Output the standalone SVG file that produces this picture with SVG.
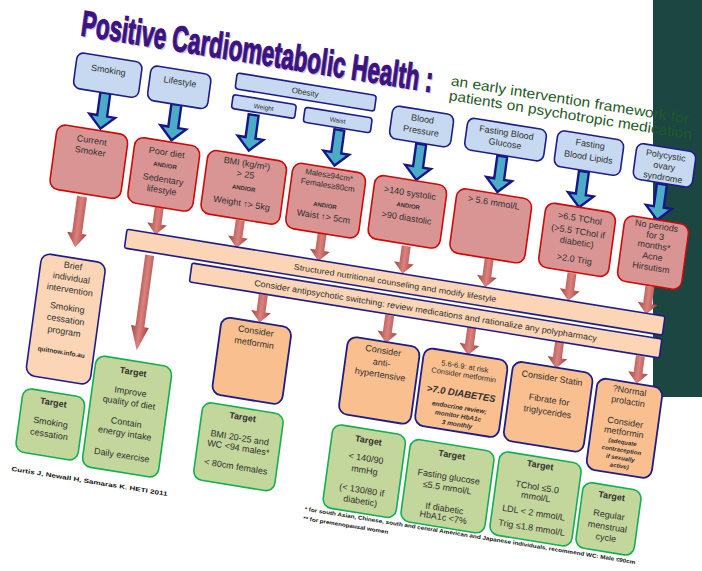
<svg xmlns="http://www.w3.org/2000/svg" width="702" height="571" viewBox="0 0 702 571">
<defs>
<style>
.t{font-family:"Liberation Sans",Arial,sans-serif;font-size:9px;fill:#303030;text-anchor:middle}
.s{font-size:6px;font-weight:bold}
.b{font-weight:bold}
.bi{font-weight:bold;font-style:italic}
.ti{font-family:"Liberation Sans",Arial,sans-serif;font-size:36px;font-weight:bold;text-anchor:start}
.sub{font-family:"Liberation Sans",Arial,sans-serif;font-size:14px;text-anchor:start;fill:#1f5a25}
.bl{fill:#c6d9f1;stroke:#1d1d8a;stroke-width:1.6}
.rd{fill:#d99594;stroke:#cc0a0a;stroke-width:1.6}
.pc{fill:#fbd5b5;stroke:#1d1d8a;stroke-width:1.6}
.or{fill:#f9bf8f;stroke:#1d1d8a;stroke-width:1.8}
.gr{fill:#c3d69b;stroke:#13b050;stroke-width:1.6}
.ab{fill:#4bacc6;stroke:#16168a;stroke-width:2.4;stroke-linejoin:miter}
.ar{fill:url(#rg)}
</style>
<linearGradient id="rg" x1="0" y1="0" x2="1" y2="0">
<stop offset="0" stop-color="#a8403d"/><stop offset="0.5" stop-color="#d9827e"/><stop offset="1" stop-color="#a8403d"/>
</linearGradient>
<path id="ba" d="M-5,0H5V23H13L0,36L-13,23H-5Z"/>
<path id="ra" d="M-4.5,0H4.5V17H10L0,28L-10,17H-4.5Z"/>
</defs>
<rect width="702" height="571" fill="#fff"/>
<rect x="653" y="0" width="49" height="397" fill="#1b4641"/>
<g transform="matrix(0.9871,0.1599,-0.1357,0.9908,0,0)">
<g id="title">
<text x="85.5" y="23.5" class="ti" style="fill:#8a84b0;opacity:.5" textLength="356" lengthAdjust="spacingAndGlyphs">Positive Cardiometabolic Health :</text>
<text x="84" y="22" class="ti" style="fill:#3d1282;stroke:#3d1282;stroke-width:1.2" textLength="356" lengthAdjust="spacingAndGlyphs">Positive Cardiometabolic Health :</text>
<text x="458" y="12" class="sub" textLength="241" lengthAdjust="spacingAndGlyphs">an early intervention framework for</text>
<text x="458" y="27" class="sub" textLength="246" lengthAdjust="spacingAndGlyphs">patients on psychotropic medication</text>
</g>
<g id="connectors">
<use href="#ba" class="ab" x="117" y="75"/>
<use href="#ba" class="ab" x="189" y="75"/>
<use href="#ba" class="ab" x="267" y="73"/>
<use href="#ba" class="ab" x="354" y="74"/>
<use href="#ba" class="ab" x="437" y="75"/>
<use href="#ba" class="ab" x="519" y="74"/>
<use href="#ba" class="ab" x="602" y="76"/>
<use href="#ba" class="ab" x="681" y="76"/>
<path class="ar" d="M103,181H113V218H118L108,232L98,218H103Z"/>
<path class="ar" d="M178.5,228H187.5V300H192L183,324L174,300H178.5Z"/>
<use href="#ra" class="ar" x="186" y="179"/>
<use href="#ra" class="ar" x="268" y="179"/>
<use href="#ra" class="ar" x="351" y="179"/>
<use href="#ra" class="ar" x="436" y="178"/>
<use href="#ra" class="ar" x="520" y="178"/>
<use href="#ra" class="ar" x="604" y="178"/>
<use href="#ra" class="ar" x="683" y="179"/>
<use href="#ra" class="ar" x="301" y="249"/>
<use href="#ra" class="ar" x="429" y="249"/>
<use href="#ra" class="ar" x="512" y="248"/>
<use href="#ra" class="ar" x="601" y="247"/>
<use href="#ra" class="ar" x="683" y="249"/>
</g>
<g id="smoking"><rect class="bl" x="84" y="39" width="66" height="36" rx="7"/><text class="t" x="117" y="55">Smoking</text></g>
<g id="lifestyle"><rect class="bl" x="159" y="40" width="61" height="35" rx="7"/><text class="t" x="189.5" y="55">Lifestyle</text></g>
<g id="obesity"><rect class="bl" x="245" y="34" width="141" height="16" rx="3"/><text class="t" x="315" y="45" style="font-size:8px">Obesity</text></g>
<g id="weight"><rect class="bl" x="244" y="56" width="64" height="14" rx="3"/><text class="t" x="276" y="66" style="font-size:6.5px">Weight</text></g>
<g id="waist"><rect class="bl" x="317" y="57" width="68" height="15" rx="3"/><text class="t" x="351" y="67" style="font-size:6.5px">Waist</text></g>
<g id="bp"><rect class="bl" x="404" y="41" width="62" height="33" rx="7"/><text class="t" x="435" y="53">Blood</text><text class="t" x="435" y="65">Pressure</text></g>
<g id="fbg"><rect class="bl" x="480" y="41" width="80" height="32" rx="7"/><text class="t" x="520" y="53">Fasting Blood</text><text class="t" x="520" y="64">Glucose</text></g>
<g id="fbl"><rect class="bl" x="571" y="39" width="67" height="36" rx="7"/><text class="t" x="604.5" y="51">Fasting</text><text class="t" x="604.5" y="64">Blood Lipids</text></g>
<g id="pcos"><rect class="bl" x="651" y="39" width="60" height="36" rx="7"/><text class="t" x="681" y="50">Polycystic</text><text class="t" x="681" y="61">ovary</text><text class="t" x="681" y="72">syndrome</text></g>
<g id="current-smoker"><rect class="rd" x="74" y="113" width="72" height="65" rx="9"/><text class="t" x="110" y="127">Current</text><text class="t" x="110" y="138">Smoker</text></g>
<g id="poor-diet"><rect class="rd" x="153" y="113" width="66" height="66" rx="9"/><text class="t" x="186" y="127">Poor diet</text><text class="t s" x="186" y="139">AND/OR</text><text class="t" x="186" y="154">Sedentary</text><text class="t" x="186" y="165">lifestyle</text></g>
<g id="bmi"><rect class="rd" x="227" y="114" width="80" height="64" rx="9"/><text class="t" x="267" y="125">BMI (kg/m²)</text><text class="t" x="267" y="136">&gt; 25</text><text class="t s" x="267" y="149">AND/OR</text><text class="t" x="267" y="165">Weight ↑&gt; 5kg</text></g>
<g id="waist-crit"><rect class="rd" x="313" y="113" width="74" height="66" rx="9"/><text class="t" x="350" y="123" style="font-size:8px">Males≥94cm*</text><text class="t" x="350" y="133" style="font-size:8px">Females≥80cm</text><text class="t s" x="350" y="153">AND/OR</text><text class="t" x="350" y="165">Waist ↑&gt; 5cm</text></g>
<g id="bp-crit"><rect class="rd" x="396" y="112" width="73" height="64" rx="9"/><text class="t" x="432.5" y="128">&gt;140 systolic</text><text class="t s" x="432.5" y="140">AND/OR</text><text class="t" x="432.5" y="153">&gt;90 diastolic</text></g>
<g id="glu-crit"><rect class="rd" x="479" y="112" width="76" height="65" rx="9"/><text class="t" x="517" y="124">&gt; 5.6 mmol/L</text></g>
<g id="lip-crit"><rect class="rd" x="569" y="112" width="71" height="65" rx="9"/><text class="t" x="604.5" y="126">&gt;6.5 TChol</text><text class="t" x="604.5" y="139">(&gt;5.5 TChol if</text><text class="t" x="604.5" y="150">diabetic)</text><text class="t" x="604.5" y="167">&gt;2.0 Trig</text></g>
<g id="pcos-crit"><rect class="rd" x="649" y="112" width="65" height="66" rx="9"/><text class="t" x="681.5" y="121">No periods</text><text class="t" x="681.5" y="131">for 3</text><text class="t" x="681.5" y="141">months*</text><text class="t" x="681.5" y="152">Acne</text><text class="t" x="681.5" y="163">Hirsutism</text></g>
<g id="bar-nutrition"><rect class="pc" x="157" y="206" width="545" height="19" rx="2"/><text class="t" x="430" y="219" style="font-size:8px" textLength="205" lengthAdjust="spacingAndGlyphs">Structured nutritional counseling and modify lifestyle</text></g>
<g id="bar-switch"><rect class="pc" x="226" y="229" width="476" height="19" rx="2"/><text class="t" x="464" y="241.5" style="font-size:8.5px" textLength="347" lengthAdjust="spacingAndGlyphs">Consider antipsychotic switching: review medications and rationalize any polypharmacy</text></g>
<g id="brief"><rect class="pc" x="76" y="243" width="65" height="123" rx="9"/><text class="t" x="108.5" y="254">Brief</text><text class="t" x="108.5" y="266">individual</text><text class="t" x="108.5" y="278">intervention</text><text class="t" x="108.5" y="296">Smoking</text><text class="t" x="108.5" y="308">cessation</text><text class="t" x="108.5" y="320">program</text><text class="t b" x="108.5" y="340" style="font-size:6.5px">quitnow.info.au</text></g>
<g id="metformin"><rect class="or" x="263" y="277" width="71" height="78" rx="9"/><text class="t" x="298.5" y="289">Consider</text><text class="t" x="298.5" y="301">metformin</text></g>
<g id="antihyp"><rect class="or" x="391" y="276" width="73" height="78" rx="9"/><text class="t" x="427.5" y="288">Consider</text><text class="t" x="427.5" y="300">anti-</text><text class="t" x="427.5" y="312">hypertensive</text></g>
<g id="diabetes"><rect class="or" x="468" y="275" width="85" height="78" rx="9"/><text class="t" x="510.5" y="290" style="font-size:7.5px">5.6-6.9: at risk</text><text class="t" x="510.5" y="298.5" style="font-size:7.5px">Consider metformin</text><text class="t bi" x="510.5" y="318" style="font-size:9.5px">&gt;7.0 DIABETES</text><text class="t bi" x="510.5" y="331" style="font-size:6.5px">endocrine review;</text><text class="t bi" x="510.5" y="339.5" style="font-size:6.5px">monitor HbA1c</text><text class="t bi" x="510.5" y="348" style="font-size:6.5px">3 monthly</text></g>
<g id="statin"><rect class="or" x="558" y="274" width="81" height="80" rx="9"/><text class="t" x="598.5" y="288">Consider Statin</text><text class="t" x="598.5" y="310">Fibrate for</text><text class="t" x="598.5" y="322">triglycerides</text></g>
<g id="prolactin"><rect class="or" x="644" y="277" width="66" height="92" rx="9"/><text class="t" x="677" y="288">?Normal</text><text class="t" x="677" y="299">prolactin</text><text class="t" x="677" y="320">Consider</text><text class="t" x="677" y="330">metformin</text><text class="t bi" x="677" y="339" style="font-size:6px">(adequate</text><text class="t bi" x="677" y="347" style="font-size:6px">contraception</text><text class="t bi" x="677" y="355" style="font-size:6px">if sexually</text><text class="t bi" x="677" y="363" style="font-size:6px">active)</text></g>
<g id="target-smoking"><rect class="gr" x="76" y="379" width="63" height="64" rx="9"/><text class="t b" x="107.5" y="392">Target</text><text class="t" x="107.5" y="412">Smoking</text><text class="t" x="107.5" y="424">cessation</text></g>
<g id="target-diet"><rect class="gr" x="144" y="335" width="77" height="112" rx="9"/><text class="t b" x="182.5" y="349">Target</text><text class="t" x="182.5" y="369">Improve</text><text class="t" x="182.5" y="380">quality of diet</text><text class="t" x="182.5" y="400">Contain</text><text class="t" x="182.5" y="411">energy intake</text><text class="t" x="182.5" y="433">Daily exercise</text></g>
<g id="target-bmi"><rect class="gr" x="256" y="364" width="82" height="78" rx="9"/><text class="t b" x="297" y="376">Target</text><text class="t" x="297" y="397">BMI 20-25 and</text><text class="t" x="297" y="407">WC &lt;94 males*</text><text class="t" x="297" y="426">&lt; 80cm females</text></g>
<g id="target-bp"><rect class="gr" x="388" y="365" width="74" height="84" rx="9"/><text class="t b" x="425" y="379">Target</text><text class="t" x="425" y="397">&lt; 140/90</text><text class="t" x="425" y="409">mmHg</text><text class="t" x="425" y="429">(&lt; 130/80 if</text><text class="t" x="425" y="440">diabetic)</text></g>
<g id="target-glucose"><rect class="gr" x="467" y="367" width="85" height="83" rx="9"/><text class="t b" x="509.5" y="380">Target</text><text class="t" x="509.5" y="402">Fasting glucose</text><text class="t" x="509.5" y="413">≤5.5 mmol/L</text><text class="t" x="509.5" y="434">If diabetic</text><text class="t" x="509.5" y="443">HbA1c &lt;7%</text></g>
<g id="target-lipids"><rect class="gr" x="557" y="365" width="83" height="84" rx="9"/><text class="t b" x="598.5" y="376">Target</text><text class="t" x="598.5" y="398">TChol ≤5.0</text><text class="t" x="598.5" y="408">mmol/L</text><text class="t" x="598.5" y="424">LDL &lt; 2 mmol/L</text><text class="t" x="598.5" y="439">Trig ≤1.8 mmol/L</text></g>
<g id="target-menstrual"><rect class="gr" x="644" y="382" width="59" height="66" rx="9"/><text class="t b" x="673.5" y="395">Target</text><text class="t" x="673.5" y="414">Regular</text><text class="t" x="673.5" y="426">menstrual</text><text class="t" x="673.5" y="437">cycle</text></g>
<g id="footer">
<text class="t b" x="75" y="463" style="font-size:6px;fill:#111;text-anchor:start" textLength="158" lengthAdjust="spacingAndGlyphs">Curtis J, Newall H, Samaras K. HETI 2011</text>
<text class="t b" x="371" y="455.5" style="font-size:5.5px;fill:#111;text-anchor:start" textLength="335" lengthAdjust="spacingAndGlyphs">* for south Asian, Chinese, south and central American and Japanese individuals, recommend WC: Male ≤90cm</text>
<text class="t b" x="371" y="465" style="font-size:5.5px;fill:#111;text-anchor:start" textLength="86" lengthAdjust="spacingAndGlyphs">** for premenopausal women</text>
</g>
</g>
</svg>
